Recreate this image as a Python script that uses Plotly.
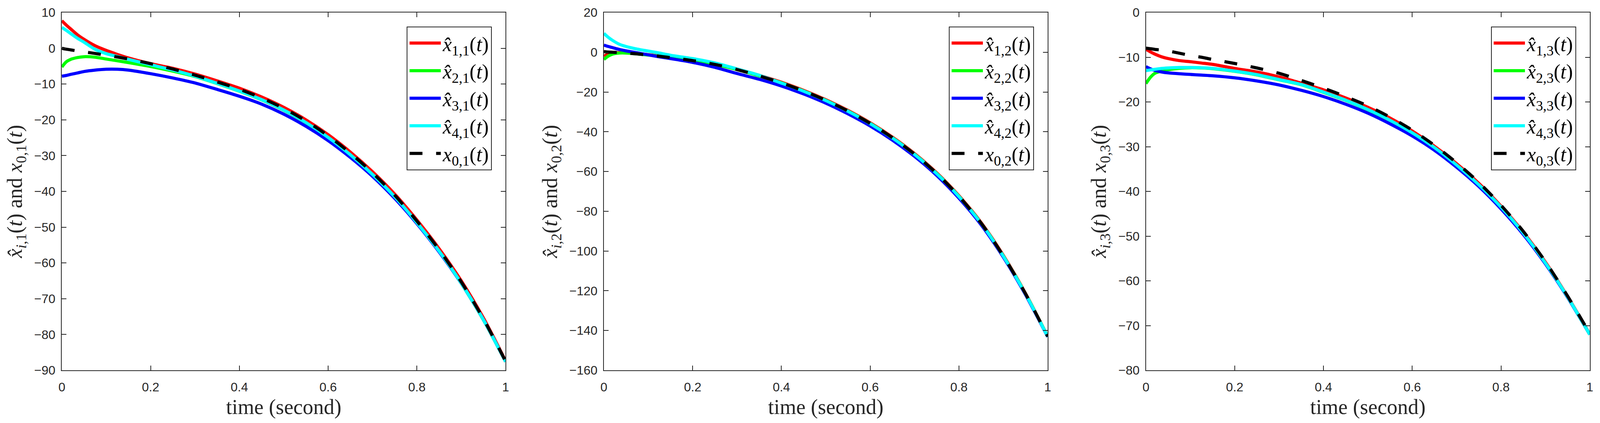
import plotly.graph_objects as go

# time samples (denser near t=0 where estimates converge)
t = [0, 0.01, 0.02, 0.035, 0.05, 0.075, 0.1, 0.125, 0.15, 0.2, 0.25, 0.3, 0.35,
     0.4, 0.45, 0.5, 0.55, 0.6, 0.65, 0.7, 0.75, 0.8, 0.85, 0.9, 0.95, 1.0]

# component 1
x11 = [7.7, 6.5, 5.4, 3.8, 2.5, 0.7, -0.6, -1.7, -2.7, -4.3, -5.6, -7.2, -9.1,
       -11.15, -13.6, -16.5, -20.0, -24.15, -29.0, -34.5, -40.75, -48.0, -56.0, -65.0, -75.4, -87.4]
x21 = [-5.25, -3.8, -3.1, -2.6, -2.35, -2.5, -3.0, -3.5, -4.0, -5.1, -6.4, -7.9, -9.85,
       -12.0, -14.4, -17.3, -20.8, -24.95, -29.8, -35.3, -41.55, -48.8, -56.75, -65.7, -75.95, -87.6]
x31 = [-7.8, -7.6, -7.3, -6.9, -6.5, -6.1, -5.85, -5.85, -6.1, -7.1, -8.3, -9.7, -11.5,
       -13.4, -15.6, -18.4, -21.8, -25.8, -30.5, -35.8, -41.95, -49.0, -56.9, -65.7, -75.9, -87.6]
x41 = [5.85, 5.0, 4.1, 2.8, 1.7, -0.3, -1.5, -2.3, -3.1, -4.6, -6.1, -7.8, -9.8,
       -11.95, -14.35, -17.25, -20.75, -24.9, -29.75, -35.25, -41.5, -48.75, -56.7, -65.65, -75.9, -87.6]
x01 = [0.0, -0.25, -0.45, -0.75, -1.0, -1.45, -1.95, -2.45, -3.0, -4.3, -5.8, -7.5, -9.4,
       -11.45, -13.9, -16.8, -20.3, -24.45, -29.3, -34.8, -41.05, -48.3, -56.3, -65.3, -75.65, -87.5]

# component 2
x12 = [-2.0, -0.9, -0.3, -0.2, -0.3, -0.7, -1.2, -1.8, -2.5, -4.0, -5.8, -8.4, -11.6,
       -15.1, -19.2, -23.9, -29.3, -35.5, -42.7, -51.0, -60.7, -72.2, -85.7, -102.2, -121.3, -143.0]
x22 = [-3.6, -1.9, -0.9, -0.4, -0.4, -0.85, -1.4, -2.0, -2.7, -4.2, -6.1, -8.7, -11.9,
       -15.4, -19.5, -24.2, -29.6, -35.8, -43.0, -51.3, -61.0, -72.5, -86.0, -102.5, -121.5, -143.0]
x32 = [3.6, 2.9, 2.3, 1.4, 0.7, -0.3, -1.3, -2.3, -3.2, -5.1, -7.6, -10.7, -13.6,
       -17.0, -21.0, -25.6, -31.0, -37.1, -44.2, -52.4, -62.0, -73.4, -86.8, -103.1, -122.0, -143.2]
x42 = [9.5, 7.5, 5.9, 4.0, 2.9, 1.6, 0.6, -0.4, -1.5, -3.2, -5.4, -8.4, -11.6,
       -15.5, -19.6, -24.3, -29.7, -35.9, -43.1, -51.4, -61.1, -72.6, -86.1, -102.6, -121.6, -143.1]
x02 = [0.3, 0.1, 0.0, -0.2, -0.4, -0.85, -1.4, -2.0, -2.7, -4.2, -6.1, -8.7, -11.9,
       -15.4, -19.5, -24.2, -29.6, -35.8, -43.0, -51.3, -61.0, -72.5, -86.0, -102.5, -121.5, -143.0]

# component 3
x13 = [-8.2, -8.8, -9.3, -9.9, -10.3, -10.75, -11.0, -11.3, -11.6, -12.5, -13.3, -14.4, -15.8,
       -17.3, -19.1, -21.2, -23.6, -26.5, -29.9, -33.8, -38.2, -43.3, -49.1, -55.8, -63.5, -71.9]
x23 = [-15.9, -14.5, -13.6, -13.1, -12.8, -12.5, -12.35, -12.4, -12.55, -13.15, -13.95, -15.05, -16.15,
       -17.85, -19.65, -21.75, -24.15, -26.95, -30.25, -34.15, -38.55, -43.55, -49.35, -56.05, -63.65, -72.0]
x33 = [-12.1, -12.6, -12.95, -13.3, -13.5, -13.7, -13.85, -14.0, -14.15, -14.6, -15.3, -16.2, -17.4,
       -18.8, -20.5, -22.5, -24.9, -27.6, -30.8, -34.6, -38.9, -43.9, -49.6, -56.2, -63.7, -72.0]
x43 = [-13.0, -12.85, -12.7, -12.5, -12.4, -12.3, -12.3, -12.35, -12.5, -13.1, -13.9, -15.0, -16.1,
       -17.8, -19.6, -21.7, -24.1, -26.9, -30.2, -34.1, -38.5, -43.5, -49.3, -56.0, -63.6, -72.0]
x03 = [-8.0, -8.1, -8.25, -8.4, -8.6, -9.1, -9.6, -10.0, -10.5, -11.4, -12.4, -13.6, -15.2,
       -16.9, -18.8, -20.9, -23.4, -26.3, -29.7, -33.6, -38.0, -43.1, -48.9, -55.7, -63.4, -71.8]

panels = [
    (1, [x11, x21, x31, x41, x01], [-90, 10], 10),
    (2, [x12, x22, x32, x42, x02], [-160, 20], 20),
    (3, [x13, x23, x33, x43, x03], [-80, 0], 10),
]
colors = ["#FF0000", "#00FF00", "#0000FF", "#00FFFF", "#000000"]

W, H = 4218, 1083
ax_left = [163, 1592, 3021]
ax_w = 1170
ax_top, ax_bot = 32, 948

TXT = "#262626"
SERIF = "Liberation Serif"
SANS = "Liberation Sans"

fig = go.Figure()
layout = dict(autosize=True,
              margin=dict(l=0, r=0, t=0, b=0),
              paper_bgcolor="white", plot_bgcolor="white")

for k, series, yr, dy in panels:
    sfx = "" if k == 1 else str(k)
    leg = "legend" if k == 1 else "legend%d" % k
    for i, ys in enumerate(series):
        if i < 4:
            name = "<i>x̂</i><sub>%d,%d</sub>(<i>t</i>)" % (i + 1, k)
            line = dict(color=colors[i], width=8, shape="spline", smoothing=0.8)
        else:
            name = "<i>x</i><sub>0,%d</sub>(<i>t</i>)" % k
            line = dict(color=colors[i], width=8, dash="33px,35px", shape="spline", smoothing=0.8)
        fig.add_trace(go.Scatter(x=t, y=ys, mode="lines", name=name, line=line,
                                 xaxis="x" + sfx, yaxis="y" + sfx, legend=leg))

    x0 = ax_left[k - 1] / W
    x1 = (ax_left[k - 1] + ax_w) / W
    common = dict(showline=True, linecolor=TXT, linewidth=2, mirror="ticks",
                  ticks="inside", ticklen=12, tickwidth=2, tickcolor=TXT,
                  showgrid=False, zeroline=False, automargin=False,
                  tickfont=dict(family=SANS, size=32, color=TXT))
    layout["xaxis" + sfx] = dict(common, domain=[x0, x1], range=[0, 1], dtick=0.2, tick0=0,
                                 anchor="y" + sfx, ticklabelstandoff=14,
                                 title=dict(text="time (second)", standoff=14,
                                            font=dict(family=SERIF, size=54, color=TXT)))
    layout["yaxis" + sfx] = dict(common, domain=[1 - ax_bot / H, 1 - ax_top / H], range=yr,
                                 dtick=dy, tick0=0, anchor="x" + sfx, ticklabelstandoff=8,
                                 title=dict(text="<i>x̂</i><sub><i>i</i>,%d</sub>(<i>t</i>) and "
                                                 "<i>x</i><sub>0,%d</sub>(<i>t</i>)" % (k, k),
                                            standoff=14,
                                            font=dict(family=SERIF, size=54, color=TXT)))
    layout[leg] = dict(x=(ax_left[k - 1] + ax_w - 36) / W, y=1 - 68 / H,
                       xanchor="right", yanchor="top",
                       bgcolor="white", bordercolor=TXT, borderwidth=2,
                       font=dict(family=SERIF, size=52, color="black"),
                       itemwidth=80, tracegroupgap=0)

fig.update_layout(**layout)
fig.write_html("out.html", default_width="100vw", default_height="100vh",
               config={"responsive": True, "displayModeBar": False},
               post_script="document.body.style.margin='0';document.body.style.overflow='hidden';")
